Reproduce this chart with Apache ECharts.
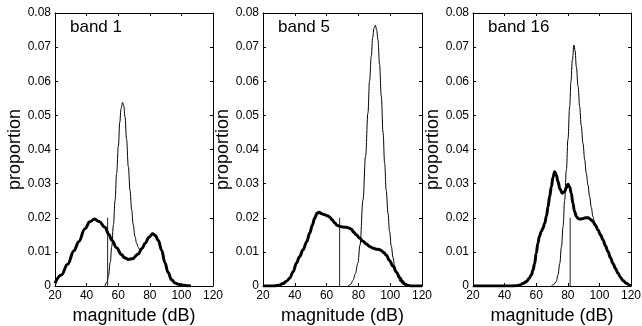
<!DOCTYPE html>
<html><head><meta charset="utf-8">
<script src="https://cdn.jsdelivr.net/npm/echarts@6/dist/echarts.min.js"></script>
<style>html,body{margin:0;padding:0;background:#fff}#c{width:642px;height:326px}</style>
</head><body><div id="c"></div>
<script>
// ---- data ----
const panelTitles = ['band 1', 'band 5', 'band 16'];
const xTickValues = [20, 40, 60, 80, 100, 120];
const yTickLabels = ['0', '0.01', '0.02', '0.03', '0.04', '0.05', '0.06', '0.07', '0.08'];
const xAxisTitle = 'magnitude (dB)';
const yAxisTitle = 'proportion';

const band1Thick = [[20,0.0008],[24,0.0032],[28,0.0064],[32,0.0103],[35,0.0130],[39,0.0168],[42,0.0188],[45,0.0196],[48,0.0189],[51.6,0.0172],[54,0.0152],[56,0.0134],[59,0.0112],[62,0.0092],[64,0.0083],[66.4,0.0078],[69,0.0080],[72.7,0.0094],[75,0.0110],[77,0.0125],[79.5,0.0143],[81.8,0.0153],[83.5,0.0148],[85.4,0.0133],[87.5,0.0105],[89.6,0.0068],[91.5,0.0040],[93.8,0.0018],[96,0.0009],[98,0.0005],[101,0.0002],[104,0.0001],[106,0]];
const band1Thin = [[51.6,0],[53,0.0012],[53.8,0.003],[55,0.007],[55.9,0.0115],[57,0.018],[58,0.025],[59,0.033],[60.1,0.041],[61,0.048],[61.8,0.052],[62.8,0.0538],[63.5,0.0528],[64.3,0.0496],[65.3,0.043],[66.4,0.035],[67.5,0.028],[68.5,0.0223],[69.5,0.018],[70.6,0.0145],[71.7,0.0125],[72.7,0.0113],[73.5,0.0107],[74.3,0.0105],[75,0.0110],[77,0.0125],[79.5,0.0143],[81.8,0.0153],[83.5,0.0148],[85.4,0.0133],[87.5,0.0105],[89.6,0.0068],[91.5,0.0040],[93.8,0.0018],[96,0.0009],[98,0.0005],[101,0.0002],[104,0.0001],[106,0]];

const band5Thick = [[20,0],[26,0],[30,0.0002],[32.6,0.0007],[35,0.0015],[36.8,0.0023],[39,0.0042],[41,0.0067],[43,0.0086],[45.2,0.0106],[47.5,0.0130],[49.4,0.0155],[51,0.0178],[52.5,0.0199],[54,0.0213],[55.2,0.0216],[57,0.0212],[58.8,0.0209],[60.5,0.0206],[61.9,0.0202],[63.5,0.0194],[65.1,0.0185],[66.5,0.0178],[68.2,0.0175],[70,0.0173],[72.4,0.0172],[74,0.0170],[75.6,0.0166],[77,0.0158],[78.7,0.0150],[80.8,0.0140],[82.9,0.0131],[85,0.0123],[87.1,0.0116],[89,0.0111],[91.3,0.0108],[93,0.0107],[94.4,0.0104],[96,0.0098],[97.6,0.0090],[99.5,0.0075],[101.8,0.0058],[104,0.0040],[106,0.0025],[107.5,0.0014],[109.1,0.0006],[111,0.0002],[113,0],[120,0]];
const band5Thin = [[73.5,0],[75,0.0004],[76.6,0.0016],[78,0.0035],[79.7,0.0067],[81,0.012],[82.9,0.0253],[84.5,0.038],[86,0.0507],[87,0.060],[88.1,0.0673],[89,0.0728],[89.8,0.0756],[90.7,0.0764],[91.5,0.0750],[92.3,0.0722],[93.3,0.0650],[94.4,0.0556],[95.5,0.045],[96.5,0.036],[97.5,0.028],[98.6,0.0214],[99.6,0.016],[100.7,0.0116],[101.8,0.0083],[102.8,0.0058],[104,0.0038],[105,0.0024],[106.5,0.0012],[108,0.0005],[110,0.0001],[112,0]];

const band16Thick = [[20,0],[45,0],[47.5,0.0001],[49.5,0.0003],[52,0.0008],[53.8,0.0013],[55.5,0.0022],[56.9,0.0032],[58,0.0047],[59,0.0066],[60,0.0095],[61.1,0.0125],[62,0.0145],[63.2,0.0159],[64.3,0.0170],[65.4,0.0184],[66.5,0.0205],[67.5,0.0232],[68.5,0.0262],[69.6,0.0291],[70.6,0.0318],[71.7,0.0335],[72.7,0.0326],[73.8,0.0306],[75,0.0285],[76.5,0.0272],[78,0.0276],[79,0.0288],[80.1,0.0298],[81.2,0.0290],[82.2,0.0272],[83.2,0.0243],[84.3,0.0218],[85.4,0.0204],[86.5,0.0198],[88,0.0196],[89.6,0.0198],[91.2,0.0200],[92.8,0.0200],[94.4,0.0195],[95.9,0.0189],[97.5,0.0178],[99.1,0.0164],[100.7,0.0150],[102.3,0.0135],[103.8,0.0118],[105.4,0.0101],[107,0.0083],[108.6,0.0066],[110.2,0.0051],[111.8,0.0037],[113.3,0.0026],[114.9,0.0016],[117,0.0008],[119.2,0.0002],[120,0.0001]];
const band16Thin = [[69.6,0],[71,0.0004],[72.7,0.0013],[73.8,0.0033],[74.9,0.0066],[76,0.0115],[77,0.0174],[78,0.025],[79.1,0.034],[80.1,0.043],[81.2,0.0526],[82,0.060],[82.9,0.0662],[83.9,0.0706],[84.6,0.0690],[85.4,0.0643],[86.5,0.0585],[87.5,0.0526],[88.5,0.0470],[89.6,0.0418],[90.7,0.037],[91.7,0.033],[92.8,0.0295],[93.8,0.0262],[94.9,0.0230],[95.9,0.0203],[97,0.0185],[97.5,0.0178],[99.1,0.0164],[100.7,0.0150],[102.3,0.0135],[103.8,0.0118],[105.4,0.0101],[107,0.0083],[108.6,0.0066],[110.2,0.0051],[111.8,0.0037],[113.3,0.0026],[114.9,0.0016],[117,0.0008],[119.2,0.0002],[120,0.0001]];

const markerX = [53.3, 68.2, 81.5];
const markerHeight = 0.02;

// ---- chart ----
const thickSeries = [band1Thick, band5Thick, band16Thick];
const thinSeries = [band1Thin, band5Thin, band16Thin];
const FONT = '"Liberation Sans", Arial, Helvetica, sans-serif';
const grids = [
  {left: 55, top: 13, width: 158, height: 273},
  {left: 263, top: 13, width: 159, height: 273},
  {left: 473, top: 13, width: 158, height: 273}
];

const xAxes = [], yAxes = [], series = [], graphics = [];
grids.forEach((g, i) => {
  const tick = {show: true, inside: true, length: 3, lineStyle: {color: '#000', width: 1}};
  const line = {show: true, onZero: false, lineStyle: {color: '#000', width: 1}};
  xAxes.push({
    gridIndex: i, type: 'value', position: 'bottom', min: xTickValues[0], max: xTickValues[xTickValues.length - 1], interval: 20,
    axisLine: line, axisTick: tick, splitLine: {show: false},
    axisLabel: {color: '#000', fontSize: 12, fontFamily: FONT, margin: 4},
    name: xAxisTitle, nameLocation: 'middle', nameGap: 21,
    nameTextStyle: {color: '#000', fontSize: 18, fontFamily: FONT}
  });
  xAxes.push({
    gridIndex: i, type: 'value', position: 'top', min: 20, max: 120, interval: 20,
    axisLine: line, axisTick: tick, splitLine: {show: false}, axisLabel: {show: false}
  });
  yAxes.push({
    gridIndex: i, type: 'value', position: 'left', min: 0, max: 0.08, interval: 0.01,
    axisLine: line, axisTick: tick, splitLine: {show: false},
    axisLabel: {color: '#000', fontSize: 12, fontFamily: FONT, margin: 4,
      formatter: v => yTickLabels[Math.round(v / 0.01)]},
    name: yAxisTitle, nameLocation: 'middle', nameGap: 24,
    nameTextStyle: {color: '#000', fontSize: 18, fontFamily: FONT}
  });
  yAxes.push({
    gridIndex: i, type: 'value', position: 'right', min: 0, max: 0.08, interval: 0.01,
    axisLine: line, axisTick: tick, splitLine: {show: false}, axisLabel: {show: false}
  });
  const xi = 2 * i, yi = 2 * i;
  series.push({
    type: 'line', xAxisIndex: xi, yAxisIndex: yi, data: thinSeries[i], showSymbol: false, symbol: 'none',
    smooth: 0.4, smoothMonotone: 'x', lineStyle: {color: '#000', width: 1}, z: 2
  });
  series.push({
    type: 'line', xAxisIndex: xi, yAxisIndex: yi, data: [[markerX[i], 0], [markerX[i], markerHeight]], showSymbol: false, symbol: 'none',
    lineStyle: {color: '#222', width: 1}, z: 2
  });
  series.push({
    type: 'line', xAxisIndex: xi, yAxisIndex: yi, data: thickSeries[i], showSymbol: false, symbol: 'none',
    smooth: 0.4, smoothMonotone: 'x', lineStyle: {color: '#000', width: 3}, z: 3
  });
  graphics.push({
    type: 'text', left: g.left + 15, top: 19,
    style: {text: panelTitles[i], fill: '#000', fontSize: 17, fontFamily: FONT}
  });
});

const chart = echarts.init(document.getElementById('c'), null, {renderer: 'canvas'});
chart.setOption({
  animation: false,
  backgroundColor: '#fff',
  grid: grids.map(g => Object.assign({containLabel: false, outerBoundsMode: 'none'}, g)),
  xAxis: xAxes,
  yAxis: yAxes,
  series: series,
  graphic: graphics
});
</script></body></html>
